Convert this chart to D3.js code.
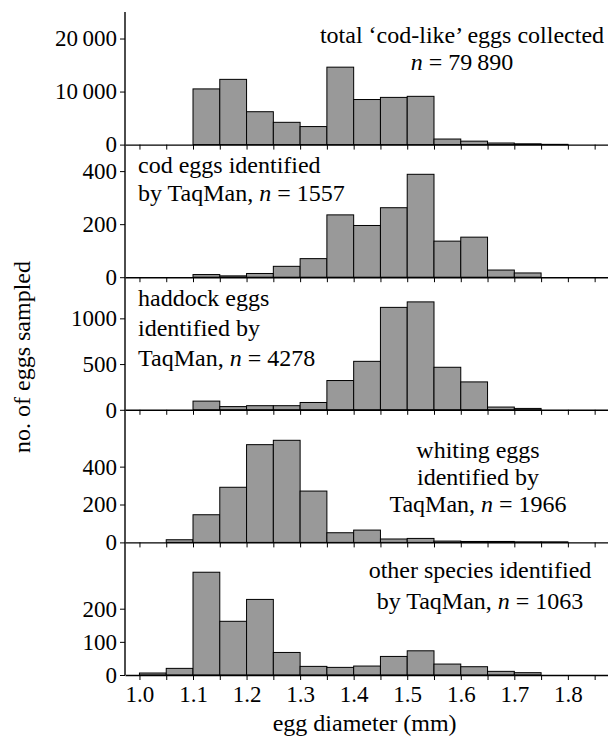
<!DOCTYPE html>
<html>
<head>
<meta charset="utf-8">
<script src="https://cdn.jsdelivr.net/npm/d3@7"></script>
<style>
  body { margin: 0; background: #fff; }
  text { font-family: "Liberation Serif", "Times New Roman", serif; fill: #000; }
</style>
</head>
<body>
<div id="chart"></div>
<script>
// bin lower edges (mm), each bin is 0.05 wide
const binStarts = [1.00, 1.05, 1.10, 1.15, 1.20, 1.25, 1.30, 1.35, 1.40, 1.45, 1.50, 1.55, 1.60, 1.65, 1.70, 1.75];
const binWidth = 0.05;

// counts per bin
const totalCounts   = [0, 0, 10500, 12300, 6200, 4200, 3400, 14600, 8500, 8900, 9100, 1050, 650, 300, 150, 50];
const codCounts     = [0, 0, 10, 5, 14, 41, 70, 235, 195, 262, 388, 136, 151, 27, 16, 0];
const haddockCounts = [0, 0, 95, 35, 45, 45, 80, 320, 530, 1120, 1180, 465, 305, 30, 15, 0];
const whitingCounts = [0, 14, 146, 291, 516, 539, 271, 51, 65, 18, 21, 7, 5, 5, 3, 3];
const otherCounts   = [6, 20, 310, 162, 228, 68, 26, 23, 27, 56, 73, 33, 25, 11, 7, 0];

const series = [totalCounts, codCounts, haddockCounts, whitingCounts, otherCounts];
const yMax = [25000, 500, 1450, 700, 400];
const yTicks = [[0, 10000, 20000], [0, 200, 400], [0, 500, 1000], [0, 200, 400], [0, 100, 200]];
const xTicks = [1.00, 1.05, 1.10, 1.15, 1.20, 1.25, 1.30, 1.35, 1.40, 1.45, 1.50, 1.55, 1.60, 1.65, 1.70, 1.75, 1.80, 1.85];
const xTickLabels = [1.0, 1.1, 1.2, 1.3, 1.4, 1.5, 1.6, 1.7, 1.8];

const notes = [
  ["total ‘cod-like’ eggs collected", "n = 79\u2009890"],
  ["cod eggs identified", "by TaqMan, n = 1557"],
  ["haddock eggs", "identified by", "TaqMan, n = 4278"],
  ["whiting eggs", "identified by", "TaqMan, n = 1966"],
  ["other species identified", "by TaqMan, n = 1063"]
];
const noteX = [462, 138, 138, 478, 480];
const noteAnchor = ["middle", "start", "start", "middle", "middle"];
const noteY = [[35, 62], [165, 193], [298, 328, 358], [450, 477, 504], [570, 601]];

// layout
const width = 610, height = 742;
const top0 = 12, panelH = 132.6;
const tickFont = 23, noteFont = 24;

const svg = d3.select("#chart").append("svg")
  .attr("width", width)
  .attr("height", height);

const x = d3.scaleLinear().domain([0.973, 1.874]).range([125, 607.5]);

const loc = d3.formatLocale({ decimal: ".", thousands: "\u2009", grouping: [3], currency: ["", ""] });
const yFmt = v => v >= 10000 ? loc.format(",")(v) : String(v);

series.forEach((counts, i) => {
  const yTop = top0 + i * panelH;
  const y = d3.scaleLinear().domain([0, yMax[i]]).range([yTop + panelH, yTop]);
  const g = svg.append("g");

  const bins = binStarts.map((b, j) => ({ b: b, v: counts[j] })).filter(d => d.v > 0);

  g.selectAll("rect")
    .data(bins)
    .join("rect")
      .attr("x", d => x(d.b))
      .attr("width", d => x(d.b + binWidth) - x(d.b))
      .attr("y", d => y(d.v))
      .attr("height", d => y(0) - y(d.v))
      .attr("fill", "#999")
      .attr("stroke", "#000")
      .attr("stroke-width", 1);

  // y axis ticks (line drawn once below)
  g.append("g")
    .attr("transform", "translate(" + x.range()[0] + ",0)")
    .call(d3.axisLeft(y).tickValues(yTicks[i]).tickSize(5).tickPadding(3).tickFormat(yFmt))
    .call(a => a.select(".domain").remove())
    .call(a => a.selectAll("text").attr("font-size", tickFont).attr("font-family", null));

  // x axis along each baseline
  const isLast = i === series.length - 1;
  g.append("g")
    .attr("transform", "translate(0," + y(0) + ")")
    .call(d3.axisBottom(x).tickValues(xTicks).tickSize(5).tickSizeOuter(0).tickPadding(6)
      .tickFormat(d => (isLast && xTickLabels.some(t => Math.abs(t - d) < 1e-6)) ? d.toFixed(1) : ""))
    .call(a => a.select(".domain").attr("stroke-width", 1.4))
    .call(a => a.selectAll("text").attr("font-size", tickFont).attr("font-family", null));

  // panel note
  const t = g.append("text")
    .attr("font-size", noteFont)
    .attr("text-anchor", noteAnchor[i]);
  notes[i].forEach((line, k) => {
    const ts = t.append("tspan").attr("x", noteX[i]).attr("y", noteY[i][k]).attr("dy", "0.35em");
    const m = line.match(/^(.*?)\bn = (.*)$/);
    if (m) {
      ts.append("tspan").text(m[1]);
      ts.append("tspan").attr("font-style", "italic").text("n");
      ts.append("tspan").text(" = " + m[2]);
    } else {
      ts.text(line);
    }
  });
});

// shared y axis line
svg.append("line")
  .attr("x1", x.range()[0]).attr("x2", x.range()[0])
  .attr("y1", top0).attr("y2", top0 + panelH * series.length)
  .attr("stroke", "#000")
  .attr("stroke-width", 1.4);

// axis titles
svg.append("text")
  .attr("x", (x(1.0) + x(1.8)) / 2 + 11)
  .attr("y", 723)
  .attr("dy", "0.35em")
  .attr("text-anchor", "middle")
  .attr("font-size", noteFont)
  .text("egg diameter (mm)");

svg.append("text")
  .attr("transform", "translate(22,357) rotate(-90)")
  .attr("dy", "0.35em")
  .attr("text-anchor", "middle")
  .attr("font-size", noteFont)
  .text("no. of eggs sampled");
</script>
</body>
</html>
